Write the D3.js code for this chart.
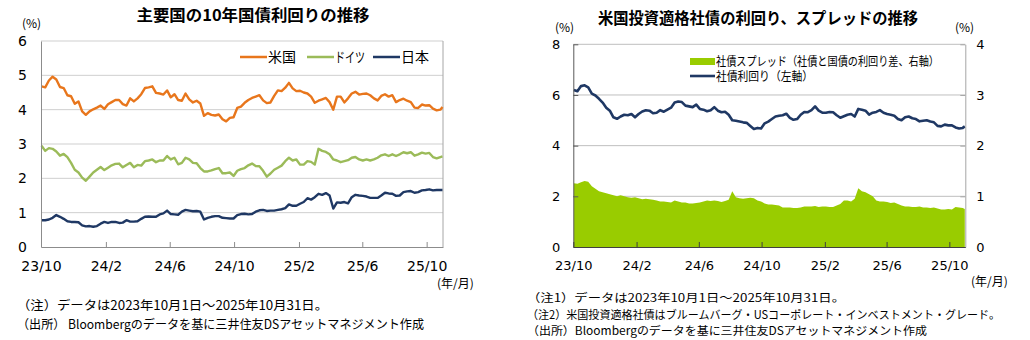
<!DOCTYPE html>
<html><head><meta charset="utf-8">
<script src="https://cdn.jsdelivr.net/npm/d3@7"></script>
<style>
body{margin:0;background:#fff;}
svg{display:block;}
text{font-family:"Noto Sans CJK JP","Noto Sans",sans-serif;fill:#000;}
.tick text,.num{font-family:"DejaVu Sans",Verdana,sans-serif;}
</style></head>
<body>
<svg id="c" width="1030" height="340"></svg>
<script>
// ---- data (weekly readings, Mondays from 2023-10-02, final point 2025-10-31) ----
const usYield = [4.68,4.65,4.85,4.96,4.88,4.66,4.63,4.42,4.39,4.17,4.24,3.95,3.85,3.95,4.01,4.06,4.12,4.02,4.16,4.22,4.28,4.28,4.16,4.12,4.33,4.24,4.33,4.45,4.63,4.65,4.68,4.49,4.47,4.44,4.56,4.36,4.45,4.28,4.26,4.47,4.30,4.21,4.26,4.18,3.82,3.90,3.85,3.83,3.86,3.72,3.66,3.76,3.78,4.05,4.09,4.20,4.28,4.34,4.38,4.42,4.27,4.19,4.21,4.40,4.56,4.54,4.64,4.78,4.62,4.54,4.55,4.50,4.47,4.38,4.20,4.26,4.30,4.34,4.22,4.00,4.38,4.38,4.21,4.33,4.47,4.52,4.44,4.46,4.47,4.42,4.33,4.27,4.40,4.45,4.38,4.42,4.22,4.28,4.32,4.26,4.22,4.06,4.05,4.15,4.12,4.13,4.03,3.98,4.00,4.08];
const deYield = [2.95,2.80,2.88,2.86,2.78,2.66,2.71,2.62,2.45,2.25,2.17,2.02,1.93,2.05,2.17,2.25,2.33,2.24,2.31,2.38,2.42,2.43,2.32,2.39,2.45,2.32,2.39,2.37,2.50,2.52,2.55,2.47,2.52,2.52,2.65,2.55,2.60,2.41,2.45,2.60,2.55,2.45,2.44,2.30,2.20,2.20,2.23,2.27,2.30,2.15,2.15,2.17,2.07,2.22,2.27,2.30,2.38,2.43,2.36,2.35,2.22,2.05,2.14,2.25,2.31,2.37,2.50,2.60,2.52,2.55,2.40,2.40,2.50,2.48,2.40,2.86,2.80,2.77,2.70,2.55,2.52,2.47,2.50,2.53,2.60,2.62,2.55,2.52,2.55,2.52,2.55,2.60,2.67,2.70,2.65,2.70,2.65,2.70,2.76,2.73,2.76,2.66,2.70,2.75,2.72,2.74,2.62,2.58,2.62,2.64];
const jpYield = [0.78,0.78,0.80,0.85,0.93,0.88,0.82,0.75,0.73,0.73,0.72,0.63,0.60,0.61,0.59,0.61,0.68,0.73,0.70,0.73,0.73,0.70,0.71,0.78,0.74,0.74,0.75,0.82,0.88,0.89,0.88,0.88,0.95,0.98,1.06,0.96,0.95,0.94,1.03,1.08,1.06,1.04,1.05,1.03,0.80,0.85,0.88,0.90,0.90,0.85,0.84,0.83,0.83,0.93,0.96,0.97,0.95,0.96,1.03,1.07,1.08,1.05,1.06,1.06,1.08,1.10,1.13,1.24,1.20,1.20,1.26,1.31,1.42,1.38,1.45,1.55,1.52,1.57,1.50,1.12,1.30,1.29,1.31,1.27,1.45,1.52,1.50,1.49,1.47,1.43,1.43,1.43,1.50,1.58,1.56,1.55,1.49,1.50,1.60,1.62,1.63,1.58,1.60,1.65,1.66,1.68,1.65,1.66,1.66,1.66];
const corpYield = [6.20,6.15,6.35,6.38,6.30,6.05,5.98,5.85,5.70,5.50,5.38,5.12,5.06,5.15,5.22,5.20,5.25,5.12,5.25,5.35,5.40,5.38,5.28,5.30,5.40,5.34,5.42,5.50,5.70,5.74,5.72,5.58,5.55,5.52,5.62,5.45,5.42,5.36,5.40,5.52,5.38,5.32,5.34,5.22,5.00,4.98,4.95,4.92,4.90,4.78,4.66,4.70,4.68,4.88,4.95,5.05,5.15,5.18,5.20,5.26,5.10,5.02,5.05,5.22,5.33,5.32,5.40,5.55,5.38,5.30,5.30,5.33,5.32,5.20,5.10,5.16,5.22,5.25,5.15,5.45,5.42,5.38,5.22,5.30,5.33,5.40,5.30,5.25,5.22,5.18,5.05,5.00,5.12,5.15,5.08,5.05,4.96,4.98,5.00,4.95,4.92,4.78,4.76,4.83,4.80,4.80,4.72,4.68,4.70,4.76];
const corpSpread = [1.26,1.25,1.28,1.30,1.29,1.20,1.15,1.10,1.08,1.06,1.04,1.02,1.00,1.02,1.00,0.98,0.97,0.98,0.96,0.94,0.95,0.94,0.93,0.92,0.90,0.90,0.89,0.88,0.92,0.90,0.88,0.88,0.86,0.86,0.87,0.88,0.90,0.92,0.91,0.92,0.91,0.89,0.91,0.93,1.10,0.98,0.96,0.95,0.96,0.97,0.96,0.92,0.90,0.86,0.84,0.84,0.83,0.82,0.78,0.78,0.78,0.77,0.77,0.78,0.80,0.80,0.80,0.81,0.79,0.80,0.80,0.79,0.79,0.82,0.85,0.92,0.92,0.90,0.95,1.16,1.10,1.08,1.04,1.00,0.92,0.90,0.90,0.89,0.87,0.88,0.85,0.82,0.80,0.80,0.79,0.79,0.80,0.78,0.78,0.77,0.78,0.76,0.74,0.74,0.75,0.74,0.79,0.78,0.77,0.75];
const xTickMonths = ["2023-10","2024-02","2024-06","2024-10","2025-02","2025-06","2025-10"];
const leftYTicks = [0,1,2,3,4,5,6];
const rightYTicksL = [0,2,4,6,8];
const rightYTicksR = [0,1,2,3,4];
const seriesNames = ["米国","ドイツ","日本"];
const colors = {us:"#E8761C", de:"#9BBB59", jp:"#1F3864", area:"#99CC00", corp:"#1F3864"};

const startDate = new Date(2023,9,2), endDate = new Date(2025,9,31);
const dates = usYield.map((_,i)=> i===usYield.length-1 ? endDate : d3.timeDay.offset(startDate,7*i));
const tickDates = xTickMonths.map(s=>{const [y,m]=s.split("-").map(Number);return new Date(y,m-1,1);});
const fmt = d3.timeFormat("%y/%-m");
const dom = [new Date(2023,9,1), new Date(2025,10,1)];

const svg = d3.select("#c");

// ================= LEFT CHART =================
{
  const L=41,R=443,T=41,B=247;
  const x = d3.scaleTime().domain(dom).range([L,R]);
  const y = d3.scaleLinear().domain([0,6]).range([B,T]);
  const g = svg.append("g");
  g.append("text").attr("x",253).attr("y",21).attr("text-anchor","middle")
    .attr("font-size",16).attr("font-weight","bold").attr("textLength",233).attr("lengthAdjust","spacingAndGlyphs")
    .text("主要国の10年国債利回りの推移");
  g.append("g").selectAll("line").data(leftYTicks.filter(d=>d>0)).join("line")
    .attr("x1",L).attr("x2",R).attr("y1",d=>y(d)).attr("y2",d=>y(d))
    .attr("stroke","#CFCFCF").attr("stroke-width",1);
  g.append("line").attr("x1",R).attr("x2",R).attr("y1",T).attr("y2",B).attr("stroke","#A6A6A6");
  const line = v => d3.line().x((d,i)=>x(dates[i])).y(d=>y(d))(v);
  [[usYield,colors.us],[deYield,colors.de],[jpYield,colors.jp]].forEach(([v,c])=>{
    g.append("path").attr("d",line(v)).attr("fill","none").attr("stroke",c)
      .attr("stroke-width",2.4).attr("stroke-linejoin","round");
  });
  const ya = g.append("g").attr("transform",`translate(${L},0)`)
    .call(d3.axisLeft(y).tickValues(leftYTicks).tickSize(0).tickPadding(14).tickFormat(d3.format("d")));
  ya.select(".domain").attr("stroke","#8C8C8C");
  ya.selectAll("text").attr("font-size",14);
  const xa = g.append("g").attr("transform",`translate(0,${B})`)
    .call(d3.axisBottom(x).tickValues(tickDates).tickSizeInner(-5).tickSizeOuter(0).tickPadding(14).tickFormat(fmt));
  xa.select(".domain").attr("stroke","#8C8C8C");
  xa.selectAll(".tick line").attr("stroke","#8C8C8C");
  xa.selectAll("text").attr("font-size",14);
  g.append("text").attr("x",22).attr("y",28).attr("font-size",12).text("(%)");
  g.append("text").attr("x",437).attr("y",288).attr("font-size",12).text("(年/月)");
  const lg = [[240,colors.us,"米国",28],[307,colors.de,"ドイツ",30],[373,colors.jp,"日本",28]];
  lg.forEach(([lx,c,t,w])=>{
    g.append("line").attr("x1",lx).attr("x2",lx+27).attr("y1",57).attr("y2",57).attr("stroke",c).attr("stroke-width",2.5);
    g.append("text").attr("x",lx+28).attr("y",62).attr("font-size",14).attr("textLength",w).attr("lengthAdjust","spacingAndGlyphs").text(t);
  });
  g.append("text").attr("x",17).attr("y",310).attr("font-size",12.5).attr("textLength",311).attr("lengthAdjust","spacingAndGlyphs")
    .text("（注）データは2023年10月1日～2025年10月31日。");
  g.append("text").attr("x",17).attr("y",329).attr("font-size",12.5).attr("textLength",407).attr("lengthAdjust","spacingAndGlyphs")
    .text("（出所）  Bloombergのデータを基に三井住友DSアセットマネジメント作成");
}

// ================= RIGHT CHART =================
{
  const L=573.3,R=965.3,T=44.3,B=247;
  const x = d3.scaleTime().domain(dom).range([L,R]);
  const yL = d3.scaleLinear().domain([0,8]).range([B,T]);
  const yR = d3.scaleLinear().domain([0,4]).range([B,T]);
  const g = svg.append("g");
  g.append("text").attr("x",758).attr("y",24).attr("text-anchor","middle")
    .attr("font-size",16).attr("font-weight","bold").attr("textLength",320).attr("lengthAdjust","spacingAndGlyphs")
    .text("米国投資適格社債の利回り、スプレッドの推移");
  g.append("g").selectAll("line").data(rightYTicksL.filter(d=>d>0)).join("line")
    .attr("x1",L).attr("x2",R).attr("y1",d=>yL(d)).attr("y2",d=>yL(d))
    .attr("stroke","#BFBFBF").attr("stroke-width",1);
  const area = d3.area().x((d,i)=>x(dates[i])).y0(B).y1(d=>yR(d));
  g.append("path").attr("d",area(corpSpread)).attr("fill",colors.area);
  const line = d3.line().x((d,i)=>x(dates[i])).y(d=>yL(d));
  g.append("path").attr("d",line(corpYield)).attr("fill","none").attr("stroke",colors.corp)
    .attr("stroke-width",2.6).attr("stroke-linejoin","round");
  const ya = g.append("g").attr("transform",`translate(${L},0)`)
    .call(d3.axisLeft(yL).tickValues(rightYTicksL).tickSizeInner(-5).tickSizeOuter(0).tickPadding(13).tickFormat(d3.format("d")));
  ya.select(".domain").attr("stroke","#595959");
  ya.selectAll(".tick line").attr("stroke","#595959");
  ya.selectAll("text").attr("font-size",13);
  const yr = g.append("g").attr("transform",`translate(${R},0)`)
    .call(d3.axisRight(yR).tickValues(rightYTicksR).tickSizeInner(-5).tickSizeOuter(0).tickPadding(11).tickFormat(d3.format("d")));
  yr.select(".domain").attr("stroke","#A6A6A6");
  yr.selectAll(".tick line").attr("stroke","#A6A6A6");
  yr.selectAll("text").attr("font-size",13);
  const xa = g.append("g").attr("transform",`translate(0,${B})`)
    .call(d3.axisBottom(x).tickValues(tickDates).tickSizeInner(-5).tickSizeOuter(0).tickPadding(14).tickFormat(fmt));
  xa.select(".domain").attr("stroke","#404040");
  xa.selectAll(".tick line").attr("stroke","#404040");
  xa.selectAll("text").attr("font-size",13);
  g.append("text").attr("x",555).attr("y",32).attr("font-size",12).text("(%)");
  g.append("text").attr("x",955).attr("y",32).attr("font-size",12).text("(%)");
  g.append("text").attr("x",971).attr("y",286).attr("font-size",12).text("(年/月)");
  g.append("rect").attr("x",690).attr("y",58).attr("width",25).attr("height",7).attr("fill",colors.area);
  g.append("text").attr("x",716).attr("y",66).attr("font-size",12).attr("textLength",223).attr("lengthAdjust","spacingAndGlyphs")
    .text("社債スプレッド（社債と国債の利回り差、右軸）");
  g.append("line").attr("x1",690).attr("x2",715).attr("y1",76).attr("y2",76).attr("stroke",colors.corp).attr("stroke-width",2.6);
  g.append("text").attr("x",716).attr("y",81).attr("font-size",12).attr("textLength",97).attr("lengthAdjust","spacingAndGlyphs")
    .text("社債利回り（左軸）");
  const notes = ["（注1）データは2023年10月1日～2025年10月31日。",
    "（注2）米国投資適格社債はブルームバーグ・USコーポレート・インベストメント・グレード。",
    "（出所）Bloombergのデータを基に三井住友DSアセットマネジメント作成"];
  const nw = [318,473,400];
  notes.forEach((t,i)=>g.append("text").attr("x",527).attr("y",302+i*16.5).attr("font-size",11.5)
    .attr("textLength",nw[i]).attr("lengthAdjust","spacingAndGlyphs").text(t));
}
</script>
</body></html>
